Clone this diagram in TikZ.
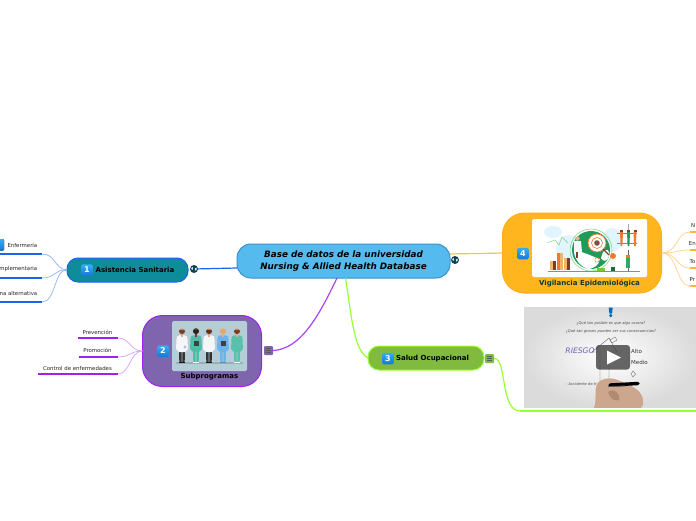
\documentclass[tikz,border=0pt]{standalone}
\usepackage{fontspec}
\setmainfont{DejaVu Sans}
\usetikzlibrary{calc}
\definecolor{cblue}{HTML}{55BBEE}
\definecolor{cblueb}{HTML}{3B90CC}
\definecolor{teal1}{HTML}{0F8C9C}
\definecolor{blue1}{HTML}{1F62F2}
\definecolor{blue1l}{HTML}{8FB2FA}
\definecolor{purp}{HTML}{7E65AE}
\definecolor{purpb}{HTML}{A020F0}
\definecolor{purpl}{HTML}{D5A5F7}
\definecolor{green1}{HTML}{80BB40}
\definecolor{greenb}{HTML}{99FF33}
\definecolor{orng}{HTML}{FFB61E}
\definecolor{orngb}{HTML}{FFA500}
\definecolor{orngl}{HTML}{FFD090}
\definecolor{badgetop}{HTML}{35AEF5}
\definecolor{badgebot}{HTML}{1577D8}
\definecolor{panel}{HTML}{B5CDD6}
\definecolor{dkgreen}{HTML}{0B3B2E}
\definecolor{globedk}{HTML}{12404F}
\definecolor{skin1}{HTML}{E2B08E}
\definecolor{coatw}{HTML}{F4F6F7}
\definecolor{tealc}{HTML}{4DBFA6}
\definecolor{bluec}{HTML}{6CB2EC}
\definecolor{handa}{HTML}{CDA68E}
\definecolor{handb}{HTML}{B08A72}
\definecolor{gred}{HTML}{1E9A5A}
\definecolor{tanb}{HTML}{EFB56B}
\definecolor{orb}{HTML}{EE7A30}
\definecolor{brb}{HTML}{7A3F2A}
\tikzset{
  hub/.style={draw,line width=1pt,rounded corners=#1,outer sep=0pt,inner sep=0pt},
  toplabel/.style={font=\bfseries\fontsize{7}{8}\selectfont,text=black,inner sep=0pt},
  leaflabel/.style={font=\fontsize{5.4}{6}\selectfont,text=black!85,inner sep=0pt},
  badgebox/.style={top color=badgetop,bottom color=badgebot,rounded corners=1.5pt,minimum size=11.5pt,inner sep=0pt,text=white,font=\bfseries\fontsize{8}{9}\selectfont},
  globeicon/.style={circle,fill=globedk,minimum size=8pt,inner sep=0pt},
  menuicon/.style={rounded corners=1pt,minimum size=9pt,inner sep=0pt},
  main link/.style={line width=1.2pt},
  leaf link/.style={line width=.7pt},
  leaf rule/.style={line width=1.5pt},
}
\newcommand{\medic}[6]{% x, coat, hair, skin, trousers, shoes
 \begin{scope}[shift={(#1,0)}]
  \fill[#5] (-3,349) -- (-.3,349) -- (-.4,362) -- (-2.7,362) -- cycle;
  \fill[#5] (.3,349) -- (3,349) -- (2.7,362) -- (.4,362) -- cycle;
  \fill[#6] (-3,361.6) rectangle (-.2,363.2);
  \fill[#6] (.2,361.6) rectangle (3,363.2);
  \fill[#2,rounded corners=1pt] (-3.6,335.3) -- (3.6,335.3) -- (5.4,337) -- (6,350) -- (4.2,350) -- (3.8,352) -- (-3.8,352) -- (-4.2,350) -- (-6,350) -- (-5.4,337) -- cycle;
  \fill[#4] (-1,333) rectangle (1,336.5);
  \fill[#4] (0,331) circle (2.9);
  \fill[#3] (-3.1,331) arc (180:0:3.1) -- (1.6,329.6) -- (-1.6,329.6) -- cycle;
 \end{scope}
}
\begin{document}
\begin{tikzpicture}[x=1pt,y=-1pt]
\useasboundingbox (0,0) rectangle (696,520);
\clip (0,0) rectangle (696,520);
\fill[white] (0,0) rectangle (696,520);
% hubs
\node[hub=14pt,fill=cblue,draw=cblueb,minimum width=213pt,minimum height=34pt] (central) at (343.5,261) {};
\node[hub=11pt,fill=teal1,draw=blue1,minimum width=121pt,minimum height=24pt] (asist) at (127.5,270) {};
\node[hub=20pt,fill=purp,draw=purpb,minimum width=119pt,minimum height=71pt] (sub) at (202,351) {};
\node[hub=11pt,fill=green1,draw=greenb,minimum width=116pt,minimum height=24pt] (salud) at (426,358) {};
\node[hub=22pt,fill=orng,draw=orngb!90!white,minimum width=159pt,minimum height=80pt] (vig) at (582,253) {};
% icons
\node[globeicon] (g1) at (194,269) {};
\node[globeicon] (g2) at (455,260) {};
\foreach \n in {g1,g2}{
  \fill[cyan!25!white] ($(\n)+(-2.9,-.6)$) -- ($(\n)+(-1.6,-2.2)$) -- ($(\n)+(-1,-.6)$) -- ($(\n)+(-1.6,1.2)$) -- cycle;
  \fill[cyan!25!white] ($(\n)+(.8,-.6)$) -- ($(\n)+(2.8,-1.4)$) -- ($(\n)+(2.6,.8)$) -- ($(\n)+(1.4,1.8)$) -- cycle;
}
\node[menuicon,fill=purp] (m1) at (268.5,350.5) {};
\node[menuicon,fill=green1] (m2) at (489.5,358.5) {};
\foreach \n in {m1,m2}{
  \foreach \d in {-1.9,0,1.9}
    \draw[line width=.65pt,black!65] ($(\n)+(-2.8,\d)$) -- ($(\n)+(2.8,\d)$);
}
% main links
\draw[main link,blue1] (central.west |- 0,268) -- (g1);
\draw[main link,orngb!70!white] (central.east |- 0,254) .. controls (470,253.5) and (485,253.5) .. (vig.west |- 0,253);
\coordinate (cs) at (337,278);
\coordinate (cg) at (345.5,278);
\draw[main link,purpb!85!white] (cs) .. controls (318,318) and (300,349) .. (m1.east);
\draw[main link,greenb] (cg) .. controls (352,320) and (354,350) .. (salud.west);
\coordinate (vstart) at (520,411);
\coordinate (vend) at (696,411);
\draw[main link,greenb] (m2.east) .. controls (507,358) and (500,411) .. (vstart);
\draw[line width=2pt,greenb] (vstart) -- (vend);
% leaves: blue
\coordinate (la) at (asist.west);
\foreach \name/\y in {e/254,c/278,t/302}{
  \coordinate (b\name) at (42,\y);
  \coordinate (b\name0) at (0,\y);
  \draw[leaf link,blue1l] (la) .. controls (54,269) and (56,\y) .. (b\name);
  \draw[leaf rule,blue1] (b\name0) -- (b\name);
}
\node[leaflabel,anchor=east] (t1) at (37.5,245) {Enfermería};
\node[leaflabel,anchor=east] (t2) at (37.5,269) {mplementaria};
\node[leaflabel,anchor=east] (t3) at (37.5,293) {na alternativa};
\fill[top color=badgetop,bottom color=badgebot,rounded corners=1pt] (-4,239) rectangle (4,250.5);
% leaves: purple
\coordinate (lp) at (sub.west);
\foreach \name/\xa/\y in {p/78/338,r/79/357,f/38/374}{
  \coordinate (p\name) at (118,\y);
  \coordinate (p\name0) at (\xa,\y);
  \draw[leaf link,purpl] (lp) .. controls (130,351) and (130,\y) .. (p\name);
  \draw[leaf rule,purpb] (p\name0) -- (p\name);
}
\node[leaflabel] (t4) at (97.5,332) {Prevención};
\node[leaflabel] (t5) at (97.5,350) {Promoción};
\node[leaflabel] (t6) at (77.5,368) {Control de enfermedades};
% leaves: orange
\coordinate (lo) at (vig.east);
\foreach \name/\y in {n/232,m/250,o/268,q/286}{
  \coordinate (o\name) at (690,\y);
  \coordinate (o\name0) at (696,\y);
  \draw[leaf link,orngl] (lo) .. controls (678,253) and (676,\y) .. (o\name);
  \draw[leaf rule,orngb!80!white] (o\name) -- (o\name0);
}
\node[leaflabel,anchor=west] (t7) at (691,226) {N};
\node[leaflabel,anchor=east] (t8) at (696,244) {En};
\node[leaflabel,anchor=west] (t9) at (689.5,262) {To};
\node[leaflabel,anchor=west] (t10) at (689.5,280) {Pr};
% hub text
\node[inner sep=0pt,align=center,font=\bfseries\itshape\fontsize{8.8}{11.8}\selectfont,text=black] (ct) at (343.5,261) {Base de datos de la universidad\\ Nursing \& Allied Health Database};
\node[badgebox] (b1) at (87,270) {1};
\node[toplabel] (l1) at (135,270) {Asistencia Sanitaria};
\node[badgebox] (b2) at (163,351) {2};
\node[toplabel] (l2) at (209.5,376.5) {Subprogramas};
\node[badgebox] (b3) at (388,358.5) {3};
\node[toplabel] (l3) at (432.5,358.5) {Salud Ocupacional};
\node[badgebox] (b4) at (523,253.5) {4};
\node[toplabel,text=dkgreen] (l4) at (589.5,283.5) {Vigilancia Epidemiológica};
% people panel
\fill[panel,rounded corners=1.5pt] (172,321) rectangle (247,371);
\fill[panel!85!black] (176,362) rectangle (243,364);
\medic{182}{coatw}{brb}{skin1}{black!80}{black!90}
\medic{196}{tealc}{black!85}{brb}{tealc}{white}
\medic{209}{coatw}{brb!80!black}{skin1}{black!80}{black!90}
\medic{223}{bluec}{orange!50!brown!70!white}{skin1}{bluec}{bluec!80!black}
\medic{237}{tealc!90!panel}{brb}{skin1}{tealc!90!panel}{white}
\fill[black!75] (193.5,341) rectangle (199,346);
\fill[black!75] (220.5,341) rectangle (226,346);
\fill[white!70!blue] (185,347) circle (1.7);
% epidemiology panel
\fill[white,rounded corners=1.5pt] (532,219) rectangle (647,277);
\fill[cyan!12] (553,232) ellipse (9 and 6);
\fill[cyan!12] (569,248) ellipse (13 and 13);
\fill[cyan!12] (612,240) ellipse (10 and 12);
\draw[line width=.5pt,green!45!gray!65] (547,243) -- (555,240) -- (559,245) -- (562,237) -- (568,243);
\fill[tanb] (550,261) rectangle (553,270);
\fill[brb] (553,261) rectangle (556,270);
\fill[orb] (557,253) rectangle (560,270);
\fill[tanb] (560,253) rectangle (563,270);
\fill[tanb] (564,258) rectangle (567,270);
\fill[brb] (567,258) rectangle (570,270);
\draw[green!50!gray!70,line width=.5pt] (591,250) circle (21);
\fill[gred] (591,250) circle (19);
\fill[white] (574,252) .. controls (582,250) and (590,256) .. (600,259) .. controls (599,266) and (592,269) .. (588,269) .. controls (580,266) and (575,260) .. cycle;
\fill[white] (603,252) .. controls (607,248) and (610,250) .. (609,256) .. controls (607,262) and (603,262) .. (601,258) -- cycle;
\fill[coatw] (574,241) -- (581,241) -- (582,252) -- (574,252) -- cycle;
\fill[brb] (576,252) rectangle (578,258);
\fill[skin1] (577.5,238.5) circle (2.2);
\draw[orb,line width=.7pt,fill=white] (597,243) circle (9);
\draw[orb,line width=.6pt] (597,243) circle (5.5);
\fill[brb!70!gray] (597,243) circle (2.8);
\draw[brb,line width=1.2pt] (603,249) -- (609,255);
\fill[orb] (613,256) circle (3);
\fill[coatw] (610,259) rectangle (616,267);
\fill[gred!70!black] (611,267) rectangle (615,272);
\draw[orb,line width=.4pt] (597,260) circle (2.2);
\fill[green!60!yellow!60!gray] (597,268) rectangle (605,271);
\draw[black!45,line width=.3pt] (548,271) -- (640,271);
\draw[brb!70,line width=.4pt] (617,233) -- (637,233);
\draw[brb!70,line width=.4pt] (617,243) -- (637,243);
\draw[black!35,line width=.3pt] (628,224) -- (628,230);
\foreach \tx/\tc in {620/orb,627/gred,633.5/orb}{
  \fill[brb] (\tx,230) rectangle (\tx+3,232);
  \fill[\tc] (\tx,232) -- (\tx+3,232) -- (\tx+2.4,246) -- (\tx+.6,246) -- cycle;
}
\fill[gred!90!white] (626,258) rectangle (630,268);
\fill[orb] (626,255) rectangle (630,258);
\draw[black!60,line width=.3pt] (628,250) -- (628,255);
\draw[black!60,line width=.3pt] (628,268) -- (628,271);
% video frame
\begin{scope}
  \clip (524,307) rectangle (696,407);
  \shade[inner color=white,outer color=black!14] (524,307) rectangle (696,407);
  \fill[blue!45!cyan!75!black] (608.7,307.5) -- (612.7,307.5) -- (612,313.5) -- (609.4,313.5) -- cycle;
  \fill[blue!45!cyan!75!black] (610.7,315.6) circle (1.7);
  \node[inner sep=0pt,font=\itshape\fontsize{3.7}{4}\selectfont,text=black!70] (vq1) at (611,323.7) {¿Qué tan posible es que algo ocurra?};
  \node[inner sep=0pt,font=\itshape\fontsize{3.7}{4}\selectfont,text=black!70] (vq2) at (611,331) {¿Qué tan graves pueden ser sus consecuencias?};
  \node[inner sep=0pt,font=\itshape\fontsize{7.6}{9}\selectfont,text=blue!45!black!60] (vr) at (580,351) {RIESGO};
  \draw[black!60,line width=.4pt] (600,397) -- (600,352) -- (592,352) -- (609,338) -- (617,352) -- (609,352) -- (609,397);
  \draw[black!55,line width=.4pt] (615,337) -- (610,340) -- (612,343) -- (617,340) -- cycle;
  \draw[black!55,line width=.4pt] (633,371) -- (635.5,374) -- (633,377) -- (631,374) -- cycle;
  \node[inner sep=0pt,font=\fontsize{3.7}{4}\selectfont,text=black!70,anchor=west] (vt) at (566,384.5) {- Accidente de tr};
  \fill[handa] (597,384) .. controls (600,379) and (610,376) .. (620,381) .. controls (634,386) and (643,392) .. (643,401) .. controls (644,404) and (642,408) .. (640,408) -- (594,408) .. controls (597,400) and (594,392) .. cycle;
  \fill[handb] (608,392) .. controls (614,388) and (620,392) .. (619,400) .. controls (614,402) and (610,398) .. cycle;
  \draw[black,line width=3.4pt,line cap=round] (610,385) -- (638,383.5);
  \draw[black!65,line width=.8pt] (608,386.5) -- (625,386);
\end{scope}
\fill[black!75,fill opacity=.8,rounded corners=3pt] (596,345) rectangle (630,369.5);
\fill[white] (607,350.5) -- (621,357.5) -- (607,364.5) -- cycle;
\node[inner sep=0pt,font=\fontsize{5.5}{6}\selectfont,text=black!80,anchor=west] (va) at (631,351) {Alto};
\node[inner sep=0pt,font=\fontsize{5.5}{6}\selectfont,text=black!80,anchor=west] (vm) at (631,362) {Medio};
\end{tikzpicture}
\end{document}
